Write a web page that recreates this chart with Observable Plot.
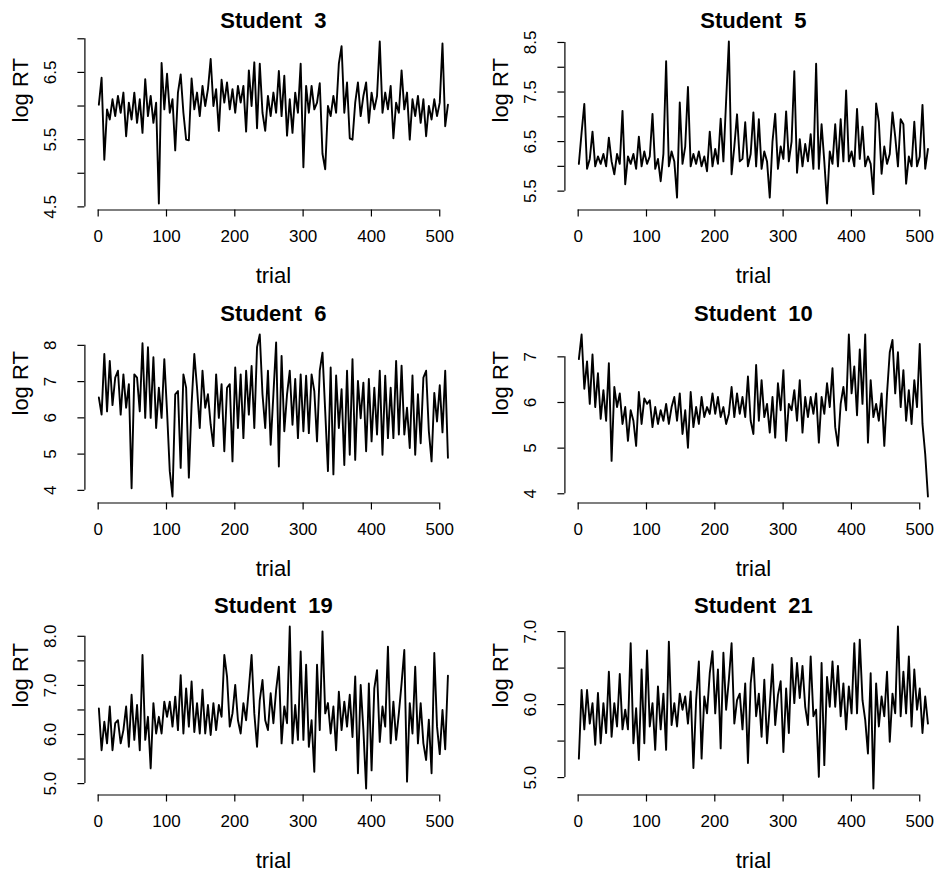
<!DOCTYPE html>
<html>
<head>
<meta charset="utf-8">
<script src="https://cdn.jsdelivr.net/npm/d3@7"></script>
<script src="https://cdn.jsdelivr.net/npm/@observablehq/plot@0.6"></script>
<style>
  html, body { margin: 0; padding: 0; background: #fff; }
  body { width: 939px; height: 874px; overflow: hidden; position: relative; font-family: "Liberation Sans", Arial, Helvetica, sans-serif; }
  .panel { position: absolute; width: 470px; height: 292px; }
  .panel svg text { white-space: pre; }
</style>
</head>
<body>
<div id="chart"></div>
<script>
// ---- data (log RT values, roughly every 4th trial) ----
const s3 = [
  6.02, 6.42, 5.2, 5.95, 5.8, 6.1, 5.85, 6.15, 5.9, 6.2,
  5.55, 6.05, 5.8, 6.2, 5.75, 6.1, 5.6, 6.4, 5.85, 6.15,
  5.75, 6.05, 4.55, 6.64, 5.95, 6.48, 5.9, 6.1, 5.34, 6.2,
  6.47, 5.9, 5.5, 5.49, 6.41, 5.95, 6.2, 5.85, 6.3, 6.0,
  6.25, 6.7, 6.0, 6.25, 5.63, 6.39, 6.05, 6.35, 5.95, 6.25,
  5.9, 6.3, 6.05, 6.3, 5.62, 6.53, 6.0, 6.65, 5.67, 6.63,
  5.9, 5.63, 6.15, 5.85, 6.2, 5.9, 6.52, 5.85, 6.45, 5.56,
  6.1, 5.6, 6.2, 5.9, 6.63, 5.09, 6.3, 5.9, 6.3, 5.95,
  6.05, 6.34, 5.29, 5.06, 6.0, 5.85, 6.15, 5.9, 6.63, 6.89,
  5.9, 6.35, 5.52, 5.5, 6.05, 6.35, 5.85, 6.15, 6.35, 5.75,
  6.2, 5.95, 6.15, 6.96, 5.9, 6.2, 5.95, 6.3, 5.52, 6.05,
  5.9, 6.53, 5.95, 6.2, 5.5, 6.1, 5.85, 6.15, 5.75, 6.1,
  5.55, 6.0, 5.8, 6.1, 5.85, 6.05, 6.93, 5.7, 6.02
];
const s5 = [
  6.05, 6.68, 7.26, 5.95, 6.15, 6.7, 6.0, 6.2, 6.05, 6.25,
  6.0, 6.58, 6.1, 5.84, 6.25, 6.05, 7.12, 5.64, 6.2, 6.05,
  6.25, 5.95, 6.6, 6.0, 6.3, 6.05, 6.2, 7.06, 5.95, 6.15,
  5.7, 6.25, 8.12, 6.0, 6.3, 6.1, 5.37, 7.29, 6.05, 6.4,
  7.6, 6.0, 6.25, 6.05, 6.3, 6.0, 6.2, 5.9, 6.7, 6.0,
  6.35, 6.05, 6.96, 6.1, 7.33, 8.52, 5.84, 6.4, 7.05, 6.1,
  6.15, 6.89, 6.0, 6.25, 7.09, 6.0, 6.95, 5.95, 6.3, 6.1,
  5.37, 6.5, 7.06, 5.95, 6.4, 6.15, 7.11, 6.1, 6.5, 7.92,
  5.87, 6.55, 6.0, 6.45, 6.1, 6.65, 5.95, 8.07, 5.95, 6.85,
  6.1, 5.25, 6.3, 6.05, 6.85, 6.0, 6.95, 6.1, 7.53, 6.1,
  6.3, 6.0, 7.16, 6.15, 6.8, 6.0, 6.2, 6.05, 5.44, 7.27,
  6.9, 5.85, 6.4, 6.05, 6.25, 7.09, 6.6, 6.0, 6.95, 6.85,
  5.65, 6.2, 6.0, 6.9, 6.0, 6.2, 7.24, 5.95, 6.35
];
const s6 = [
  6.56, 6.09, 7.76, 6.18, 7.57, 6.35, 7.11, 7.3, 6.09, 7.2,
  6.28, 6.93, 4.06, 7.2, 7.11, 6.18, 8.06, 6.0, 7.95, 6.0,
  7.67, 5.72, 6.83, 6.0, 7.62, 6.18, 4.53, 3.83, 6.65, 6.74,
  4.62, 7.2, 6.83, 4.35, 6.37, 7.76, 6.83, 5.72, 7.3, 6.28,
  6.65, 5.81, 5.22, 7.2, 6.0, 6.93, 5.08, 6.83, 6.93, 4.8,
  7.39, 5.72, 7.2, 5.44, 7.3, 6.09, 7.43, 5.72, 7.95, 8.3,
  6.65, 5.72, 7.3, 5.26, 6.65, 8.08, 4.66, 7.71, 5.63, 6.65,
  7.3, 5.81, 7.07, 5.44, 7.2, 5.63, 7.16, 5.58, 7.2, 6.74,
  5.35, 7.3, 7.8, 6.18, 4.53, 7.39, 4.44, 7.17, 5.72, 6.79,
  4.7, 7.3, 4.98, 7.62, 4.84, 7.02, 5.99, 6.97, 5.08, 7.07,
  5.35, 6.83, 5.54, 7.3, 4.98, 7.16, 5.44, 6.83, 5.44, 7.57,
  5.54, 7.44, 5.54, 6.28, 5.17, 7.17, 4.98, 6.65, 5.3, 7.11,
  7.3, 5.63, 4.8, 6.69, 5.9, 6.9, 5.6, 7.3, 4.9
];
const s10 = [
  6.95, 7.49, 6.3, 6.9, 5.97, 7.05, 5.9, 6.64, 5.64, 6.27,
  5.6, 6.86, 4.72, 6.34, 5.9, 6.2, 5.53, 5.9, 5.16, 5.83,
  5.6, 5.05, 6.23, 5.53, 6.09, 5.97, 6.05, 5.46, 5.9, 5.53,
  5.83, 5.6, 5.97, 5.53, 5.9, 6.12, 5.6, 6.2, 5.31, 5.83,
  5.01, 6.23, 5.46, 5.9, 5.53, 6.12, 5.68, 5.9, 5.75, 6.2,
  5.75, 6.12, 5.68, 5.9, 5.53, 5.75, 6.34, 5.68, 6.2, 5.75,
  6.12, 5.68, 6.57, 5.6, 5.31, 6.82, 5.6, 6.49, 5.68, 5.97,
  5.34, 6.12, 5.23, 6.42, 5.83, 6.71, 5.16, 5.97, 5.83, 6.27,
  5.6, 6.49, 5.34, 6.12, 5.68, 6.12, 5.75, 6.2, 5.12, 6.12,
  5.75, 6.42, 5.9, 6.75, 5.46, 5.05, 5.97, 6.34, 5.83, 7.49,
  6.2, 6.79, 5.72, 7.16, 5.97, 7.49, 5.12, 6.49, 5.68, 5.97,
  5.6, 6.2, 5.05, 6.2, 7.1, 7.37, 6.2, 7.1, 5.9, 6.71,
  5.6, 6.27, 5.53, 6.49, 5.9, 7.28, 5.53, 4.87, 3.94
];
const s19 = [
  6.53, 5.68, 6.26, 5.82, 6.57, 5.68, 6.23, 6.29, 5.82, 6.09,
  6.57, 5.75, 6.81, 5.89, 6.6, 5.68, 7.62, 5.89, 6.36, 5.31,
  6.64, 6.02, 6.36, 6.02, 6.67, 6.36, 6.67, 6.16, 6.77, 6.09,
  7.21, 6.02, 6.94, 6.16, 7.08, 6.05, 6.64, 6.02, 6.91, 6.02,
  6.6, 5.99, 6.64, 6.09, 6.6, 6.36, 7.62, 7.18, 6.16, 6.43,
  7.01, 6.29, 6.02, 6.64, 6.29, 6.94, 7.62, 6.43, 5.75, 6.7,
  7.11, 6.29, 6.09, 6.84, 6.23, 6.91, 7.38, 5.82, 6.57, 6.23,
  8.2, 5.82, 6.6, 5.89, 7.69, 5.89, 7.42, 5.75, 6.29, 5.24,
  7.42, 6.09, 8.1, 6.43, 6.64, 6.02, 6.57, 5.68, 6.87, 6.09,
  6.67, 6.16, 6.81, 5.95, 7.18, 5.21, 7.01, 6.09, 4.9, 7.04,
  5.27, 6.94, 7.31, 5.85, 6.57, 6.16, 7.79, 5.82, 6.67, 5.89,
  6.43, 7.04, 7.72, 5.04, 6.64, 6.02, 7.38, 5.82, 6.64, 5.82,
  5.48, 6.3, 5.21, 7.66, 6.16, 5.6, 6.5, 5.7, 7.2
];
const s21 = [
  5.26, 6.2, 5.66, 6.2, 5.74, 6.02, 5.45, 6.16, 5.47, 6.02,
  5.61, 6.45, 5.56, 6.02, 5.7, 6.42, 5.66, 5.93, 5.66, 6.84,
  5.47, 5.95, 5.24, 6.48, 5.47, 6.74, 5.7, 6.02, 5.38, 6.25,
  5.66, 6.15, 5.38, 6.86, 5.72, 6.02, 5.7, 6.15, 5.93, 6.11,
  5.74, 6.18, 5.13, 6.06, 6.59, 5.26, 6.11, 5.88, 6.43, 6.73,
  5.88, 6.48, 5.4, 6.71, 5.93, 6.34, 6.84, 5.74, 6.06, 6.15,
  5.66, 6.29, 5.2, 6.29, 6.64, 5.84, 6.15, 5.56, 6.34, 5.47,
  5.99, 6.55, 5.72, 6.13, 6.32, 5.35, 6.22, 5.61, 6.64, 6.02,
  6.57, 6.09, 6.53, 5.97, 5.72, 6.66, 5.84, 5.93, 5.01, 6.57,
  5.17, 6.38, 5.97, 6.59, 5.97, 6.53, 5.84, 6.29, 5.66, 6.25,
  5.88, 6.84, 5.88, 6.89, 6.06, 5.79, 5.33, 6.43, 4.85, 6.29,
  5.7, 6.11, 5.84, 6.45, 5.49, 6.15, 5.88, 7.07, 5.84, 6.45,
  5.88, 6.66, 5.7, 6.48, 5.93, 6.22, 5.61, 6.11, 5.74
];

const titles = ["Student  3", "Student  5", "Student  6", "Student  10", "Student  19", "Student  21"];
const xTicks = [0, 100, 200, 300, 400, 500];
const yTicks3 = [4.5, 5, 5.5, 6, 6.5, 7];      const yLabels3 = [4.5, 5.5, 6.5];
const yTicks5 = [5.5, 6, 6.5, 7, 7.5, 8, 8.5]; const yLabels5 = [5.5, 6.5, 7.5, 8.5];
const yTicks6 = [4, 5, 6, 7, 8];               const yLabels6 = [4, 5, 6, 7, 8];
const yTicks10 = [4, 5, 6, 7];                 const yLabels10 = [4, 5, 6, 7];
const yTicks19 = [5, 5.5, 6, 6.5, 7, 7.5, 8];  const yLabels19 = [5, 6, 7, 8];
const yTicks21 = [5, 5.5, 6, 6.5, 7];          const yLabels21 = [5, 6, 7];
const xLabel = "trial";
const yLabel = "log RT";
const firstTrial = 1, lastTrial = 512;

// ---- build ----
const f1 = d3.format(".1f"), f0 = d3.format("d");
const panels = [
  {title: titles[0], values: s3,  ticks: yTicks3,  labels: yLabels3,  fmt: f1},
  {title: titles[1], values: s5,  ticks: yTicks5,  labels: yLabels5,  fmt: f1},
  {title: titles[2], values: s6,  ticks: yTicks6,  labels: yLabels6,  fmt: f0},
  {title: titles[3], values: s10, ticks: yTicks10, labels: yLabels10, fmt: f0},
  {title: titles[4], values: s19, ticks: yTicks19, labels: yLabels19, fmt: f1},
  {title: titles[5], values: s21, ticks: yTicks21, labels: yLabels21, fmt: f1}
];

const span = lastTrial - firstTrial;
const xDom = [firstTrial - 0.04 * span, lastTrial + 0.04 * span];
const W = 470, H = 292;
const font = "'Liberation Sans', Arial, Helvetica, sans-serif";
const root = document.getElementById("chart");

panels.forEach((p, k) => {
  const col = k % 2, row = Math.floor(k / 2);
  const n = p.values.length;
  const data = p.values.map((v, i) => ({trial: firstTrial + i * span / (n - 1), v}));
  const ext = d3.extent(p.values);
  const r = ext[1] - ext[0];
  const yDom = [ext[0] - 0.04 * r, ext[1] + 0.04 * r];

  const svg = Plot.plot({
    width: W, height: H,
    marginLeft: 84.4, marginRight: 8.6, marginTop: 34.5, marginBottom: 82.5,
    x: {domain: xDom, axis: null},
    y: {domain: yDom, axis: null},
    style: {fontFamily: font, color: "black", background: "transparent", overflow: "visible"},
    marks: [
      Plot.line(data, {x: "trial", y: "v", stroke: "black", strokeWidth: 1.9, strokeLinejoin: "round"}),
      // x axis
      Plot.ruleY([yDom[0]], {x1: xTicks[0], x2: xTicks[xTicks.length - 1], stroke: "black", strokeWidth: 1.2}),
      Plot.axisX({ticks: xTicks, label: null, tickSize: 7, tickPadding: 13, fontSize: 17, stroke: "black", strokeWidth: 1.2, tickFormat: f0}),
      // y axis
      Plot.ruleX([xDom[0]], {y1: p.ticks[0], y2: p.ticks[p.ticks.length - 1], stroke: "black", strokeWidth: 1.2}),
      Plot.axisY({ticks: p.ticks, label: null, tickSize: 7, tickFormat: () => "", stroke: "black", strokeWidth: 1.2}),
      Plot.text(p.labels, {x: xDom[0], y: d => d, text: d => p.fmt(d), rotate: -90, dx: -34, fontSize: 17, textAnchor: "middle", lineAnchor: "middle"}),
      // titles
      Plot.text([p.title], {frameAnchor: "top", dy: -14.5, lineAnchor: "middle", fontSize: 22, fontWeight: "bold"}),
      Plot.text([xLabel], {frameAnchor: "bottom", dy: 65.5, lineAnchor: "middle", fontSize: 22}),
      Plot.text([yLabel], {frameAnchor: "left", dx: -64.4, rotate: -90, lineAnchor: "middle", fontSize: 22})
    ]
  });
  const div = document.createElement("div");
  div.className = "panel";
  div.style.left = (col * 480) + "px";
  div.style.top = (row * 292.5) + "px";
  div.appendChild(svg);
  root.appendChild(div);
});
</script>
</body>
</html>
